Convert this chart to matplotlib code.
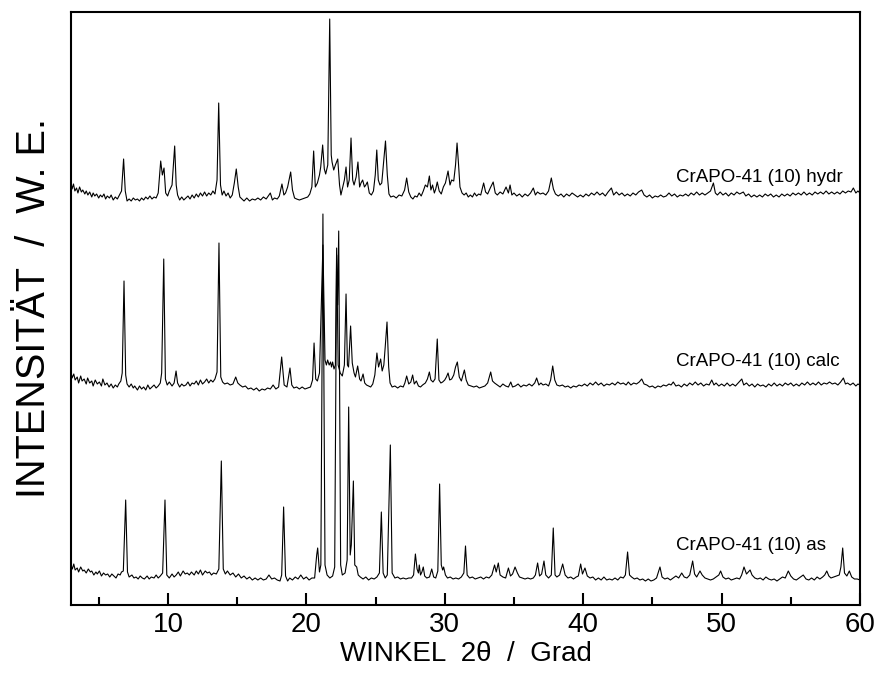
import matplotlib
matplotlib.use("Agg")
import matplotlib.pyplot as plt
from matplotlib.ticker import MultipleLocator

plt.rcParams['font.family'] = ['Liberation Sans', 'DejaVu Sans']

# ---------------- data (2theta in degrees, intensity in arbitrary units incl. offset) ----------------
trace_labels = ["CrAPO-41 (10) hydr", "CrAPO-41 (10) calc", "CrAPO-41 (10) as"]

as_points = [
    (3.0, 40), (3.1, 36), (3.2, 41), (3.3, 35), (3.45, 37), (3.55, 33), (3.7, 38), (3.85, 34), (3.95, 35),
    (4.1, 32), (4.25, 36), (4.4, 33), (4.5, 34), (4.65, 30), (4.8, 33), (4.9, 31), (5.05, 34), (5.2, 29),
    (5.35, 32), (5.5, 30), (5.65, 31), (5.8, 28), (5.95, 31), (6.1, 29), (6.25, 27), (6.4, 31), (6.55, 30),
    (6.65, 33), (6.78, 34), (6.95, 105), (7.08, 33), (7.2, 28), (7.4, 30), (7.55, 27), (7.7, 28), (7.85, 26),
    (8.0, 29), (8.15, 27), (8.3, 26), (8.5, 29), (8.65, 26), (8.8, 28), (9.0, 27), (9.15, 30), (9.3, 27),
    (9.45, 29), (9.62, 32), (9.79, 105), (9.92, 30), (10.1, 27), (10.3, 31), (10.45, 28), (10.6, 30),
    (10.75, 33), (10.9, 29), (11.1, 34), (11.25, 31), (11.4, 32), (11.55, 30), (11.7, 33), (11.9, 30),
    (12.05, 34), (12.2, 31), (12.35, 35), (12.5, 30), (12.7, 34), (12.85, 32), (13.0, 33), (13.15, 30),
    (13.3, 32), (13.5, 31), (13.68, 36), (13.86, 144), (14.0, 36), (14.15, 31), (14.3, 34), (14.5, 30),
    (14.7, 32), (14.9, 28), (15.1, 31), (15.3, 27), (15.5, 29), (15.7, 26), (15.9, 28), (16.1, 25),
    (16.3, 27), (16.5, 25), (16.7, 27), (16.9, 25), (17.1, 26), (17.3, 30), (17.5, 26), (17.7, 27),
    (17.9, 25), (18.1, 24), (18.22, 30), (18.36, 98), (18.5, 29), (18.65, 24), (18.8, 27), (19.0, 25),
    (19.2, 28), (19.4, 26), (19.6, 30), (19.8, 26), (20.0, 28), (20.2, 25), (20.4, 27), (20.6, 27),
    (20.75, 50), (20.82, 57), (20.95, 33), (21.05, 40), (21.2, 391), (21.35, 40), (21.5, 30), (21.7, 27),
    (21.9, 29), (22.05, 38), (22.19, 350), (22.26, 300), (22.34, 374), (22.48, 40), (22.6, 30), (22.8, 32),
    (22.95, 45), (23.06, 198), (23.17, 50), (23.25, 60), (23.4, 124), (23.5, 40), (23.64, 38), (23.75, 30),
    (23.9, 28), (24.1, 26), (24.3, 28), (24.5, 25), (24.7, 27), (24.9, 26), (25.1, 28), (25.28, 32),
    (25.42, 93), (25.55, 32), (25.7, 27), (25.85, 30), (26.07, 160), (26.2, 32), (26.4, 27), (26.6, 28),
    (26.8, 26), (27.0, 27), (27.2, 26), (27.4, 27), (27.6, 27), (27.75, 30), (27.88, 51), (28.0, 36),
    (28.1, 32), (28.16, 40), (28.25, 30), (28.35, 33), (28.45, 38), (28.55, 29), (28.7, 27), (28.9, 28),
    (29.06, 36), (29.2, 28), (29.35, 27), (29.5, 34), (29.63, 121), (29.75, 40), (29.85, 35), (29.92, 38),
    (30.05, 30), (30.2, 27), (30.4, 28), (30.6, 26), (30.8, 27), (31.0, 26), (31.2, 28), (31.38, 32),
    (31.5, 59), (31.62, 30), (31.8, 27), (32.0, 28), (32.2, 26), (32.4, 27), (32.6, 28), (32.8, 26),
    (33.0, 28), (33.2, 27), (33.4, 30), (33.6, 40), (33.72, 33), (33.87, 42), (34.0, 30), (34.2, 28),
    (34.4, 27), (34.6, 37), (34.75, 29), (34.9, 31), (35.08, 38), (35.25, 32), (35.4, 28), (35.6, 27),
    (35.8, 26), (36.0, 27), (36.2, 26), (36.4, 27), (36.55, 30), (36.71, 42), (36.85, 29), (37.0, 31),
    (37.17, 44), (37.3, 30), (37.5, 27), (37.7, 30), (37.84, 77), (37.97, 30), (38.1, 28), (38.3, 30),
    (38.52, 41), (38.7, 30), (38.9, 27), (39.1, 28), (39.3, 26), (39.5, 28), (39.65, 29), (39.82, 41),
    (39.95, 31), (40.13, 37), (40.3, 29), (40.5, 27), (40.7, 28), (40.9, 25), (41.1, 27), (41.3, 25),
    (41.5, 28), (41.7, 25), (41.9, 26), (42.1, 25), (42.3, 27), (42.5, 25), (42.7, 28), (42.9, 27),
    (43.05, 30), (43.21, 53), (43.35, 30), (43.5, 28), (43.7, 26), (43.9, 27), (44.1, 25), (44.3, 26),
    (44.5, 24), (44.7, 26), (44.9, 24), (45.1, 25), (45.3, 27), (45.55, 38), (45.7, 28), (45.9, 26),
    (46.1, 27), (46.3, 25), (46.5, 27), (46.7, 29), (46.9, 27), (47.12, 32), (47.3, 28), (47.5, 27),
    (47.7, 30), (47.91, 44), (48.05, 31), (48.2, 28), (48.44, 34), (48.6, 30), (48.8, 27), (49.0, 26),
    (49.2, 25), (49.4, 26), (49.6, 28), (49.8, 30), (49.93, 34), (50.1, 28), (50.3, 26), (50.5, 27),
    (50.7, 25), (50.9, 26), (51.1, 27), (51.3, 26), (51.45, 30), (51.62, 38), (51.8, 31), (52.06, 35),
    (52.2, 30), (52.4, 27), (52.6, 26), (52.8, 27), (53.0, 25), (53.2, 28), (53.4, 26), (53.6, 25),
    (53.8, 26), (54.0, 24), (54.2, 26), (54.4, 28), (54.6, 27), (54.82, 34), (55.0, 29), (55.2, 26),
    (55.4, 25), (55.6, 27), (55.9, 30), (56.1, 26), (56.3, 25), (56.5, 27), (56.7, 25), (56.9, 28),
    (57.1, 26), (57.3, 28), (57.45, 30), (57.6, 34), (57.75, 29), (57.9, 27), (58.1, 28), (58.3, 29),
    (58.5, 30), (58.62, 38), (58.75, 57), (58.88, 32), (59.05, 29), (59.23, 34), (59.4, 28), (59.6, 26),
    (59.8, 26), (60.0, 25),
]

calc_points = [
    (3.0, 233), (3.08, 227), (3.2, 231), (3.3, 225), (3.45, 228), (3.55, 222), (3.7, 229), (3.8, 224),
    (3.95, 226), (4.1, 221), (4.2, 227), (4.35, 222), (4.5, 224), (4.6, 219), (4.75, 225), (4.9, 221),
    (5.05, 223), (5.2, 219), (5.3, 226), (5.45, 220), (5.6, 222), (5.75, 218), (5.9, 221), (6.05, 217),
    (6.2, 220), (6.35, 218), (6.45, 221), (6.6, 224), (6.7, 232), (6.83, 324), (6.95, 230), (7.05, 221),
    (7.2, 218), (7.35, 221), (7.5, 217), (7.6, 219), (7.8, 215), (7.95, 219), (8.1, 216), (8.25, 218),
    (8.4, 215), (8.55, 220), (8.7, 216), (8.85, 218), (9.0, 220), (9.15, 217), (9.3, 219), (9.45, 222),
    (9.55, 232), (9.7, 346), (9.82, 226), (9.95, 220), (10.1, 223), (10.3, 219), (10.45, 222), (10.59, 234),
    (10.7, 222), (10.85, 218), (11.0, 221), (11.15, 219), (11.3, 220), (11.45, 223), (11.6, 219),
    (11.75, 222), (11.9, 221), (12.05, 224), (12.2, 220), (12.35, 225), (12.5, 221), (12.65, 223),
    (12.8, 226), (12.95, 222), (13.1, 225), (13.25, 223), (13.4, 226), (13.55, 233), (13.69, 362),
    (13.82, 228), (13.95, 223), (14.1, 221), (14.3, 222), (14.5, 220), (14.7, 221), (14.9, 228),
    (15.05, 222), (15.2, 220), (15.4, 218), (15.6, 219), (15.8, 216), (16.0, 217), (16.2, 215),
    (16.4, 217), (16.6, 214), (16.8, 216), (17.0, 215), (17.2, 217), (17.4, 216), (17.6, 220),
    (17.8, 216), (18.0, 218), (18.22, 248), (18.4, 220), (18.6, 218), (18.82, 237), (18.95, 220),
    (19.1, 217), (19.3, 218), (19.5, 216), (19.7, 218), (19.9, 216), (20.1, 217), (20.3, 218),
    (20.45, 225), (20.56, 262), (20.68, 226), (20.8, 224), (20.95, 232), (21.2, 360), (21.35, 245),
    (21.45, 240), (21.54, 245), (21.65, 240), (21.75, 243), (21.82, 238), (21.9, 243), (22.0, 236),
    (22.1, 240), (22.19, 357), (22.3, 240), (22.45, 232), (22.6, 229), (22.75, 240), (22.87, 311),
    (22.97, 240), (23.05, 238), (23.2, 279), (23.32, 242), (23.45, 232), (23.55, 228), (23.71, 239),
    (23.85, 226), (23.95, 224), (24.1, 231), (24.22, 222), (24.35, 220), (24.5, 219), (24.65, 218),
    (24.8, 221), (24.95, 230), (25.1, 252), (25.22, 238), (25.37, 246), (25.48, 234), (25.6, 240),
    (25.7, 258), (25.83, 283), (25.95, 238), (26.05, 222), (26.2, 218), (26.4, 219), (26.6, 217),
    (26.8, 219), (27.0, 218), (27.12, 222), (27.25, 229), (27.4, 221), (27.55, 223), (27.68, 230),
    (27.8, 221), (27.95, 224), (28.1, 219), (28.25, 218), (28.4, 220), (28.6, 222), (28.75, 226),
    (28.89, 233), (29.0, 225), (29.15, 223), (29.3, 226), (29.46, 266), (29.58, 225), (29.72, 222),
    (29.85, 223), (30.0, 225), (30.12, 228), (30.24, 232), (30.36, 225), (30.5, 226), (30.65, 230),
    (30.78, 238), (30.91, 243), (31.05, 228), (31.2, 224), (31.32, 230), (31.42, 235), (31.55, 225),
    (31.7, 220), (31.9, 219), (32.1, 218), (32.3, 219), (32.5, 217), (32.7, 218), (32.9, 219),
    (33.1, 222), (33.32, 233), (33.45, 224), (33.6, 222), (33.8, 220), (34.0, 218), (34.2, 221),
    (34.4, 219), (34.6, 218), (34.77, 223), (34.9, 218), (35.1, 219), (35.3, 221), (35.5, 218),
    (35.7, 220), (35.9, 219), (36.1, 221), (36.3, 219), (36.5, 222), (36.64, 227), (36.8, 220),
    (36.95, 222), (37.1, 220), (37.3, 221), (37.5, 219), (37.65, 225), (37.8, 239), (37.95, 225),
    (38.1, 220), (38.3, 219), (38.5, 220), (38.7, 218), (38.9, 219), (39.1, 217), (39.3, 219),
    (39.5, 218), (39.7, 220), (39.9, 219), (40.1, 221), (40.3, 219), (40.5, 222), (40.7, 220),
    (40.9, 223), (41.1, 220), (41.3, 222), (41.5, 219), (41.7, 221), (41.9, 220), (42.1, 222),
    (42.3, 220), (42.5, 223), (42.7, 221), (42.9, 222), (43.1, 220), (43.26, 223), (43.45, 220),
    (43.65, 222), (43.85, 221), (44.05, 223), (44.23, 226), (44.4, 221), (44.6, 220), (44.8, 218),
    (45.0, 219), (45.2, 217), (45.4, 219), (45.6, 218), (45.8, 220), (46.0, 219), (46.2, 221),
    (46.35, 220), (46.51, 223), (46.7, 219), (46.9, 220), (47.1, 218), (47.3, 221), (47.5, 219),
    (47.7, 222), (47.9, 220), (48.1, 223), (48.3, 220), (48.5, 222), (48.7, 219), (48.9, 221),
    (49.1, 220), (49.29, 225), (49.45, 220), (49.6, 222), (49.8, 219), (50.0, 221), (50.2, 219),
    (50.4, 222), (50.6, 219), (50.8, 221), (51.0, 219), (51.2, 222), (51.46, 226), (51.6, 220),
    (51.8, 222), (52.0, 219), (52.2, 221), (52.4, 218), (52.6, 221), (52.8, 219), (53.0, 220),
    (53.2, 218), (53.4, 221), (53.6, 219), (53.8, 222), (54.0, 219), (54.2, 221), (54.4, 219),
    (54.6, 222), (54.8, 220), (55.0, 222), (55.2, 219), (55.4, 221), (55.6, 219), (55.8, 222),
    (56.0, 220), (56.2, 223), (56.4, 220), (56.6, 222), (56.8, 220), (57.0, 223), (57.2, 220),
    (57.4, 222), (57.6, 221), (57.8, 223), (58.0, 221), (58.2, 222), (58.4, 220), (58.6, 223),
    (58.8, 227), (58.95, 221), (59.1, 222), (59.3, 220), (59.5, 222), (59.7, 219), (59.85, 221),
    (60.0, 220),
]

hydr_points = [
    (3.0, 422), (3.08, 416), (3.18, 421), (3.28, 414), (3.4, 417), (3.5, 412), (3.62, 418), (3.75, 413),
    (3.85, 415), (4.0, 411), (4.1, 414), (4.22, 410), (4.35, 413), (4.5, 408), (4.6, 412), (4.72, 409),
    (4.85, 411), (5.0, 407), (5.12, 410), (5.25, 408), (5.38, 411), (5.5, 406), (5.62, 409), (5.78, 407),
    (5.9, 410), (6.05, 405), (6.2, 408), (6.35, 406), (6.5, 410), (6.65, 414), (6.8, 446), (6.92, 414),
    (7.05, 404), (7.2, 406), (7.35, 404), (7.5, 407), (7.65, 405), (7.8, 406), (7.95, 404), (8.1, 407),
    (8.25, 405), (8.4, 408), (8.55, 406), (8.7, 409), (8.85, 406), (9.0, 408), (9.15, 407), (9.3, 412),
    (9.48, 444), (9.6, 430), (9.72, 437), (9.84, 412), (9.98, 409), (10.1, 414), (10.3, 420), (10.49, 459),
    (10.6, 420), (10.7, 410), (10.85, 405), (11.0, 408), (11.15, 405), (11.3, 407), (11.45, 409),
    (11.6, 406), (11.75, 410), (11.9, 407), (12.05, 411), (12.2, 408), (12.35, 412), (12.5, 409),
    (12.65, 413), (12.8, 409), (12.95, 412), (13.1, 410), (13.25, 414), (13.4, 411), (13.55, 425),
    (13.67, 502), (13.8, 420), (13.92, 410), (14.05, 414), (14.2, 409), (14.35, 412), (14.5, 407),
    (14.65, 410), (14.8, 422), (14.94, 436), (15.08, 418), (15.2, 408), (15.35, 406), (15.5, 404),
    (15.7, 407), (15.9, 404), (16.1, 406), (16.3, 405), (16.5, 407), (16.7, 405), (16.9, 408),
    (17.1, 406), (17.25, 409), (17.4, 412), (17.55, 405), (17.7, 407), (17.9, 406), (18.05, 409),
    (18.24, 421), (18.38, 410), (18.5, 412), (18.65, 418), (18.87, 433), (19.0, 415), (19.15, 407),
    (19.3, 406), (19.5, 405), (19.7, 406), (19.9, 407), (20.1, 408), (20.25, 411), (20.4, 418),
    (20.53, 454), (20.65, 418), (20.8, 422), (20.95, 430), (21.04, 438), (21.18, 460), (21.3, 436),
    (21.4, 431), (21.55, 440), (21.69, 586), (21.8, 450), (21.86, 443), (21.98, 435), (22.1, 440),
    (22.27, 446), (22.4, 420), (22.5, 410), (22.6, 416), (22.75, 425), (22.87, 438), (22.98, 418),
    (23.1, 425), (23.23, 467), (23.35, 425), (23.45, 420), (23.6, 428), (23.73, 443), (23.85, 418),
    (23.95, 422), (24.07, 425), (24.2, 418), (24.3, 420), (24.41, 423), (24.55, 412), (24.7, 410),
    (24.85, 414), (24.98, 430), (25.09, 455), (25.2, 425), (25.32, 420), (25.45, 422), (25.6, 445),
    (25.72, 464), (25.85, 430), (25.97, 411), (26.1, 408), (26.3, 409), (26.5, 407), (26.7, 410),
    (26.9, 409), (27.1, 415), (27.25, 427), (27.4, 413), (27.55, 408), (27.7, 406), (27.85, 409),
    (28.0, 408), (28.15, 412), (28.3, 409), (28.45, 414), (28.6, 420), (28.75, 418), (28.89, 429),
    (29.0, 415), (29.12, 420), (29.25, 412), (29.35, 416), (29.46, 423), (29.6, 414), (29.75, 411),
    (29.9, 418), (30.05, 422), (30.24, 434), (30.38, 420), (30.5, 425), (30.65, 424), (30.78, 440),
    (30.89, 462), (31.0, 440), (31.1, 418), (31.25, 412), (31.4, 410), (31.55, 412), (31.7, 408),
    (31.85, 410), (32.0, 408), (32.15, 412), (32.3, 409), (32.45, 411), (32.6, 410), (32.81, 422),
    (32.95, 413), (33.1, 411), (33.29, 417), (33.5, 423), (33.65, 412), (33.8, 410), (34.0, 413),
    (34.2, 411), (34.43, 418), (34.6, 412), (34.72, 420), (34.85, 410), (35.0, 412), (35.2, 409),
    (35.4, 411), (35.6, 408), (35.8, 411), (36.0, 409), (36.2, 412), (36.4, 417), (36.55, 410),
    (36.7, 413), (36.9, 411), (37.1, 412), (37.3, 410), (37.5, 414), (37.7, 427), (37.85, 416),
    (38.0, 411), (38.2, 409), (38.4, 411), (38.6, 408), (38.8, 411), (39.0, 409), (39.2, 412),
    (39.4, 410), (39.6, 408), (39.8, 410), (40.0, 408), (40.2, 411), (40.4, 409), (40.6, 412),
    (40.8, 410), (41.0, 413), (41.2, 410), (41.4, 412), (41.6, 409), (41.8, 413), (42.04, 417),
    (42.2, 410), (42.4, 413), (42.6, 410), (42.8, 412), (43.0, 409), (43.2, 411), (43.4, 409),
    (43.6, 412), (43.8, 410), (44.0, 413), (44.23, 415), (44.4, 410), (44.6, 408), (44.8, 410),
    (45.0, 407), (45.2, 409), (45.4, 408), (45.6, 410), (45.8, 408), (46.0, 409), (46.2, 412),
    (46.4, 409), (46.6, 411), (46.8, 408), (47.0, 410), (47.2, 409), (47.4, 411), (47.6, 409),
    (47.8, 412), (48.0, 410), (48.2, 413), (48.4, 410), (48.6, 412), (48.8, 410), (49.0, 412),
    (49.2, 414), (49.41, 422), (49.55, 412), (49.7, 410), (49.9, 413), (50.1, 410), (50.3, 412),
    (50.5, 409), (50.7, 412), (50.9, 410), (51.1, 413), (51.3, 411), (51.57, 413), (51.75, 409),
    (51.95, 411), (52.15, 408), (52.35, 410), (52.55, 408), (52.75, 410), (52.95, 408), (53.15, 411),
    (53.35, 409), (53.55, 411), (53.75, 408), (53.95, 410), (54.15, 408), (54.35, 411), (54.55, 409),
    (54.75, 411), (54.95, 409), (55.15, 412), (55.35, 410), (55.55, 412), (55.75, 410), (55.95, 413),
    (56.15, 410), (56.35, 412), (56.55, 410), (56.75, 413), (56.95, 411), (57.15, 413), (57.35, 411),
    (57.55, 414), (57.75, 411), (57.95, 413), (58.15, 411), (58.35, 413), (58.55, 411), (58.75, 414),
    (58.95, 412), (59.15, 414), (59.35, 413), (59.52, 417), (59.7, 412), (59.85, 414), (60.0, 412),
]

# label anchor positions (2theta, intensity)
label_x = [46.7, 46.7, 46.7]
label_y = [428, 243, 59]

# ---------------- plotting ----------------
fig = plt.figure(figsize=(8.77, 6.84), dpi=100)
ax = fig.add_axes([71 / 877, 1 - 605 / 684, (860 - 71) / 877, (605 - 12) / 684])

for pts in (hydr_points, calc_points, as_points):
    xs, ys = zip(*pts)
    ax.plot(xs, ys, color='black', lw=0.8)

for lab, lx, ly in zip(trace_labels, label_x, label_y):
    ax.text(lx, ly, lab, fontsize=13.5, ha='left', va='center')

ax.set_xlim(3, 60)
ax.set_ylim(0, 593)
ax.xaxis.set_major_locator(MultipleLocator(10))
ax.xaxis.set_minor_locator(MultipleLocator(5))
ax.tick_params(axis='x', which='major', direction='in', length=8.6, width=1.5,
               labelsize=20, pad=5, top=False)
ax.tick_params(axis='x', which='minor', direction='in', length=5.8, width=1.5, top=False)
ax.set_yticks([])
for sp in ax.spines.values():
    sp.set_linewidth(1.5)

ax.set_xlabel("WINKEL  2θ  /  Grad", fontsize=20, labelpad=2)
ax.set_ylabel("INTENSITÄT  /  W. E.", fontsize=28.5, labelpad=13)

fig.savefig("out.png", dpi=100)
